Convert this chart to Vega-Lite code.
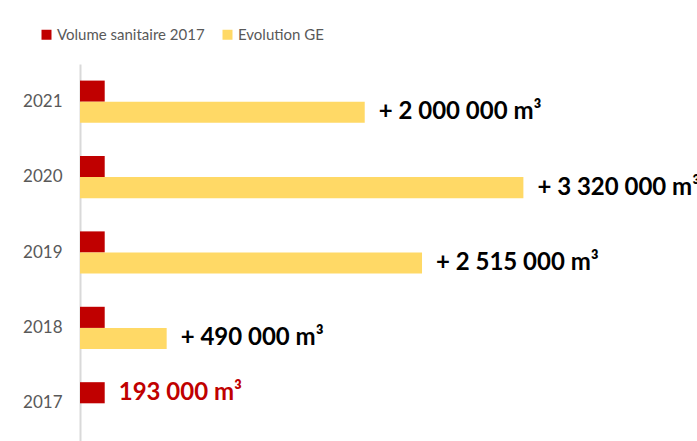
{
  "$schema": "https://vega.github.io/schema/vega-lite/v6.json",
  "autosize": "none",
  "width": 617,
  "height": 377,
  "padding": {"left": 80, "top": 64, "right": 0, "bottom": 0},
  "background": "white",
  "config": {
    "view": {"stroke": null},
    "font": "Lato"
  },
  "data": {
    "values": [
      {"year": "2021", "series": "Volume sanitaire 2017", "value": 185000, "label": ""},
      {"year": "2021", "series": "Evolution GE", "value": 2132000, "label": "+ 2 000 000 m³"},
      {"year": "2020", "series": "Volume sanitaire 2017", "value": 185000, "label": ""},
      {"year": "2020", "series": "Evolution GE", "value": 3320000, "label": "+ 3 320 000 m³"},
      {"year": "2019", "series": "Volume sanitaire 2017", "value": 185000, "label": ""},
      {"year": "2019", "series": "Evolution GE", "value": 2561000, "label": "+ 2 515 000 m³"},
      {"year": "2018", "series": "Volume sanitaire 2017", "value": 185000, "label": ""},
      {"year": "2018", "series": "Evolution GE", "value": 649000, "label": "+ 490 000 m³"},
      {"year": "2017", "series": "Volume sanitaire 2017", "value": 185000, "label": "193 000 m³"}
    ]
  },
  "encoding": {
    "y": {
      "field": "year",
      "type": "nominal",
      "sort": ["2021", "2020", "2019", "2018", "2017"],
      "scale": {"paddingInner": 0.44, "paddingOuter": 0.22},
      "axis": {
        "title": null,
        "ticks": false,
        "domainColor": "#d9d9d9",
        "domainWidth": 2,
        "labelColor": "#595959",
        "labelFontSize": 17,
        "labelPadding": 18,
        "labelFont": "Lato"
      }
    },
    "yOffset": {
      "field": "series",
      "type": "nominal",
      "scale": {"domain": ["Volume sanitaire 2017", "Evolution GE"], "paddingInner": 0, "paddingOuter": 0}
    },
    "x": {
      "field": "value",
      "type": "quantitative",
      "scale": {"domain": [0, 4620000], "nice": false, "zero": true},
      "axis": null
    }
  },
  "layer": [
    {
      "mark": {"type": "bar", "cornerRadius": 0},
      "encoding": {
        "color": {
          "field": "series",
          "type": "nominal",
          "scale": {"domain": ["Volume sanitaire 2017", "Evolution GE"], "range": ["#c00000", "#ffd966"]},
          "legend": {
            "title": null,
            "orient": "none",
            "direction": "horizontal",
            "legendX": -41,
            "legendY": -37,
            "symbolType": "square",
            "symbolSize": 100,
            "symbolStrokeWidth": 0,
            "labelFontSize": 15,
            "labelColor": "#595959",
            "labelFont": "Lato",
            "labelOffset": 3,
            "columnPadding": 15
          }
        }
      }
    },
    {
      "transform": [{"filter": "datum.label !== ''"}],
      "mark": {"type": "text", "align": "left", "baseline": "middle", "dx": 14, "fontSize": 24, "fontWeight": "bold", "font": "Lato"},
      "encoding": {
        "text": {"field": "label"},
        "color": {
          "condition": {"test": "datum.series === 'Volume sanitaire 2017'", "value": "#c00000"},
          "value": "#000000"
        }
      }
    }
  ]
}
